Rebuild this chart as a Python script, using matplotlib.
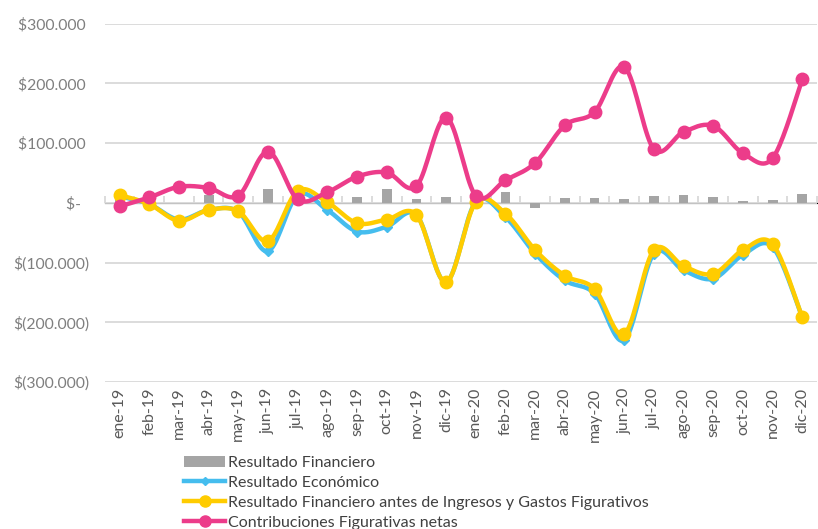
import numpy as np
import matplotlib
matplotlib.use('Agg')
import matplotlib.pyplot as plt
from matplotlib.ticker import FuncFormatter, NullFormatter

plt.rcParams['font.family'] = ['Lato', 'DejaVu Sans']

# data (miles de $)
meses = ['ene-19', 'feb-19', 'mar-19', 'abr-19', 'may-19', 'jun-19', 'jul-19', 'ago-19',
         'sep-19', 'oct-19', 'nov-19', 'dic-19', 'ene-20', 'feb-20', 'mar-20', 'abr-20',
         'may-20', 'jun-20', 'jul-20', 'ago-20', 'sep-20', 'oct-20', 'nov-20', 'dic-20']

res_financiero = [4, 0, 0, 13, 0, 23, 20, 0, 10, 23, 7, 10,
                  4, 19, -9, 8, 8, 6, 12, 13, 10, 3, 5, 15]
res_economico = [11, -2, -28, -12, -15, -81, 13, -12, -48, -40, -20, -133,
                 2, -24, -85, -130, -152, -230, -85, -113, -127, -87, -74, -192]
res_antes_fig = [13, -2, -30, -12, -14, -64, 20, 1, -34, -28, -20, -133,
                 1, -18, -79, -122, -144, -220, -79, -106, -119, -79, -69, -192]
contrib_fig = [-6, 9, 27, 25, 12, 86, 6, 18, 44, 51, 28, 143,
               12, 38, 67, 130, 152, 228, 90, 119, 129, 83, 75, 207]

labels = ['Resultado Financiero', 'Resultado Económico',
          'Resultado Financiero antes de Ingresos y Gastos Figurativos',
          'Contribuciones Figurativas netas']


def smooth(x, y, n=20):
    # Catmull-Rom style curve through the points (like Excel "smoothed line")
    x = np.asarray(x, float)
    y = np.asarray(y, float)
    px = np.concatenate([[x[0]], x, [x[-1]]])
    py = np.concatenate([[y[0]], y, [y[-1]]])
    xs, ys = [], []
    t = np.linspace(0, 1, n)
    for i in range(1, len(px) - 2):
        p0, p1, p2, p3 = [np.array([px[j], py[j]]) for j in (i - 1, i, i + 1, i + 2)]
        c1 = p1 + (p2 - p0) / 6
        c2 = p2 - (p3 - p1) / 6
        pts = ((1 - t) ** 3)[:, None] * p1 + (3 * (1 - t) ** 2 * t)[:, None] * c1 \
            + (3 * (1 - t) * t ** 2)[:, None] * c2 + (t ** 3)[:, None] * p2
        xs.extend(pts[:, 0])
        ys.extend(pts[:, 1])
    return np.array(xs), np.array(ys)


def fmt(v, pos):
    if abs(v) < 1e-9:
        return '$-  '
    s = '{:,.0f}'.format(abs(v)).replace(',', '.')
    return '$' + s + ' ' if v > 0 else '$(' + s + ')'


x = np.arange(len(meses))
grey = '#A5A5A5'
blue = '#45BDEE'
yellow = '#FFCC00'
pink = '#EC3C8A'

fig = plt.figure(figsize=(8.18, 5.29), dpi=100)
ax = fig.add_axes([0.128, 0.278, 0.871, 0.677])

handles = [ax.bar(x, np.array(res_financiero) * 1000, width=0.33, color=grey, zorder=2)]

for vals, col, mk, ms, z in [(res_economico, blue, 'D', 5, 3),
                             (res_antes_fig, yellow, 'o', 9, 4),
                             (contrib_fig, pink, 'o', 9, 5)]:
    v = np.array(vals) * 1000
    sx, sy = smooth(x, v)
    ax.plot(sx, sy, color=col, lw=3.2, zorder=z, solid_capstyle='round')
    ax.plot(x, v, ls='none', marker=mk, ms=ms, color=col, zorder=z)
    h, = ax.plot([], [], color=col, lw=3.2, marker=mk, ms=ms - 1)
    handles.append(h)

ax.set_xlim(-0.5, len(meses) - 0.5)
ax.set_ylim(-300000, 300000)
ax.set_yticks(np.arange(-300000, 300001, 100000))
ax.yaxis.set_major_formatter(FuncFormatter(fmt))
ax.grid(axis='y', color='#D9D9D9', lw=1.3, zorder=0)
ax.set_axisbelow(True)
for s in ax.spines.values():
    s.set_visible(False)
ax.tick_params(axis='y', length=0, labelsize=11.3, labelcolor='#7F7F7F', pad=11)
ax.set_xticks(x)
ax.set_xticklabels(meses, rotation=90)
ax.tick_params(axis='x', length=0, labelsize=11.5, labelcolor='#595959', pad=4)

# category axis crossing at zero, with tick marks between categories
sec = ax.secondary_xaxis(0.5)
sec.spines['bottom'].set_color('#D9D9D9')
sec.spines['bottom'].set_linewidth(1.3)
sec.set_xticks(np.arange(-0.5, len(meses), 1))
sec.xaxis.set_major_formatter(NullFormatter())
sec.tick_params(axis='x', length=5, width=1.3, color='#D9D9D9')

leg = fig.legend(handles, labels, loc='upper left', bbox_to_anchor=(0.215, 0.153),
                 frameon=False, fontsize=11.5, handlelength=2.6, handletextpad=0.15,
                 labelspacing=0.35, borderpad=0, labelcolor='#404040')

fig.savefig('out.png', dpi=100)
